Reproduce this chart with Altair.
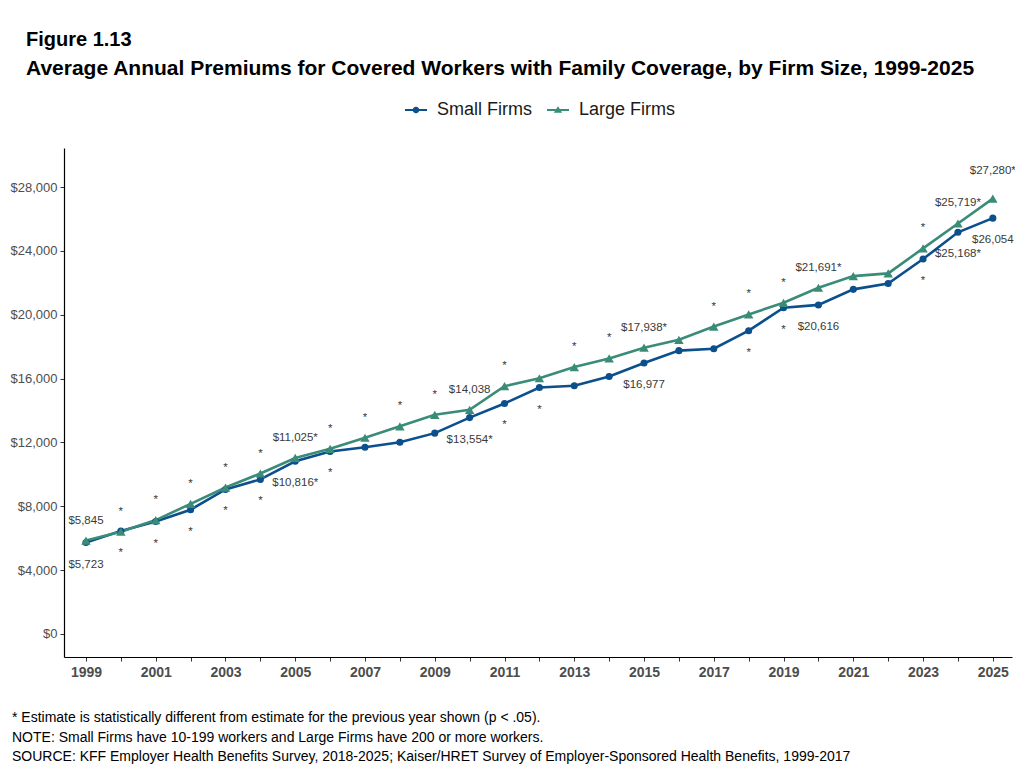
import altair as alt
import pandas as pd

FONT = "Liberation Sans"

years = list(range(1999, 2026))
small_firms = [5723, 6450, 7040, 7780, 9050, 9680, 10816, 11430, 11700, 12010,
               12580, 13554, 14440, 15440, 15550, 16130, 16977, 17750, 17870,
               19000, 20440, 20616, 21590, 21960, 23490, 25168, 26054]
large_firms = [5845, 6400, 7130, 8150, 9170, 10050, 11025, 11600, 12290, 13010,
               13730, 14038, 15520, 16020, 16720, 17260, 17938, 18430, 19260,
               20020, 20750, 21691, 22420, 22590, 24160, 25719, 27280]
small_sig = [0, 1, 1, 1, 1, 1, 1, 1, 0, 0, 0, 1, 1, 1, 0, 0, 0, 0, 0, 1, 1, 0, 0, 0, 1, 1, 0]
large_sig = [0, 1, 1, 1, 1, 1, 1, 1, 1, 1, 1, 0, 1, 0, 1, 1, 1, 0, 1, 1, 1, 1, 0, 0, 1, 1, 1]
labeled_years = [1999, 2005, 2010, 2015, 2020, 2024, 2025]

series_names = ["Small Firms", "Large Firms"]
series_colors = ["#0B4F8C", "#3A8C78"]
point_shapes = ["circle", "triangle-up"]
point_sizes = [50, 90]
# legend keys: a short line with the series symbol on it (filled paths)
legend_shapes = [
    "M-1,-0.1H1V0.1H-1Z M0.3,0A0.3,0.3,0,1,1,-0.3,0A0.3,0.3,0,1,1,0.3,0Z",
    "M-1,-0.1H1V0.1H-1Z M0,-0.34L0.38,0.26L-0.38,0.26Z",
]

title_line1 = "Figure 1.13"
title_line2 = "Average Annual Premiums for Covered Workers with Family Coverage, by Firm Size, 1999-2025"
foot_lines = [
    "* Estimate is statistically different from estimate for the previous year shown (p < .05).",
    "NOTE: Small Firms have 10-199 workers and Large Firms have 200 or more workers.",
    "SOURCE: KFF Employer Health Benefits Survey, 2018-2025; Kaiser/HRET Survey of Employer-Sponsored Health Benefits, 1999-2017",
]
y_ticks = list(range(0, 28001, 4000))


def make_label(year, value, sig):
    star = "*" if sig else ""
    if year in labeled_years:
        return "${:,}".format(value) + star
    return star


rows = []
for name, vals, sigs in [("Small Firms", small_firms, small_sig),
                         ("Large Firms", large_firms, large_sig)]:
    for yr, v, s in zip(years, vals, sigs):
        rows.append({"year": yr, "series": name, "value": v,
                     "label": make_label(yr, v, s)})
df = pd.DataFrame(rows)

x_enc = alt.X("year:Q",
              scale=alt.Scale(domain=[1998.37, 2025.55], nice=False, zero=False),
              axis=alt.Axis(values=years, title=None,
                            labelExpr="datum.value % 2 == 1 ? format(datum.value, 'd') : ''",
                            labelOverlap=False, labelFlush=False,
                            tickSize=4, labelPadding=4, labelFontSize=14,
                            labelFontWeight="bold", labelColor="#4d4d4d",
                            labelFont=FONT, domainColor="#000000", domainWidth=1.2,
                            tickColor="#333333", grid=False))
y_enc = alt.Y("value:Q",
              scale=alt.Scale(domain=[-1450, 30450], nice=False, zero=False),
              axis=alt.Axis(values=y_ticks, format="$,d", title=None,
                            tickSize=4, labelPadding=3, labelFontSize=13,
                            labelColor="#4d4d4d", labelFont=FONT,
                            domainColor="#000000", domainWidth=1.2,
                            tickColor="#333333", grid=False))
color_enc = alt.Color("series:N",
                      scale=alt.Scale(domain=series_names, range=series_colors),
                      legend=None)

base = alt.Chart(df)

lines = base.mark_line(strokeWidth=2.6).encode(x=x_enc, y=y_enc, color=color_enc)

points = base.mark_point(filled=True, opacity=1).encode(
    x=x_enc, y=y_enc, color=color_enc,
    shape=alt.Shape("series:N", scale=alt.Scale(domain=series_names, range=point_shapes), legend=None),
    size=alt.Size("series:N", scale=alt.Scale(domain=series_names, range=point_sizes), legend=None),
)

text_style = dict(font=FONT, fontSize=11.5, color="#3a3a3a", baseline="middle", align="center")

labels_large = base.transform_filter(
    "datum.series == 'Large Firms' && datum.year != 2025"
).mark_text(dy=-20, **text_style).encode(x=x_enc, y=y_enc, text="label:N")

labels_large_end = base.transform_filter(
    "datum.series == 'Large Firms' && datum.year == 2025"
).mark_text(dy=-28, **text_style).encode(x=x_enc, y=y_enc, text="label:N")

labels_small = base.transform_filter(
    "datum.series == 'Small Firms'"
).mark_text(dy=22, **text_style).encode(x=x_enc, y=y_enc, text="label:N")


def legend_layer(i, legend_x):
    name = series_names[i]
    return base.transform_filter("datum.year < 0").mark_point(filled=True).encode(
        x=x_enc, y=y_enc,
        fill=alt.Fill("series:N",
                      scale=alt.Scale(domain=[name], range=[series_colors[i]]),
                      legend=alt.Legend(title=None, orient="none", direction="horizontal",
                                        legendX=legend_x, legendY=-49, symbolSize=484,
                                        symbolType=legend_shapes[i],
                                        symbolStrokeWidth=0, symbolOpacity=1,
                                        labelFontSize=18, labelFont=FONT,
                                        labelColor="#1a1a1a", labelOffset=10)),
    )


legend_small = legend_layer(0, 341)
legend_large = legend_layer(1, 483)


def text_layer(txt, xpos, ypos, size, weight="normal", color="#000000"):
    return alt.Chart(pd.DataFrame({"t": [txt]})).mark_text(
        font=FONT, fontSize=size, fontWeight=weight, color=color,
        align="left", baseline="alphabetic"
    ).encode(x=alt.value(xpos), y=alt.value(ypos), text="t:N")


title1 = text_layer(title_line1, -38, -102.5, 20, "bold")
title2 = text_layer(title_line2, -38, -73, 21, "bold")
foot1 = text_layer(foot_lines[0], -52, 574.3, 14)
foot2 = text_layer(foot_lines[1], -52, 593.7, 14)
foot3 = text_layer(foot_lines[2], -52, 612.7, 14)

chart = alt.layer(
    lines, points, labels_large, labels_large_end, labels_small,
    legend_small, legend_large,
    title1, title2, foot1, foot2, foot3
).resolve_scale(
    shape="independent", size="independent", fill="independent"
).properties(
    width=948, height=509, autosize="none",
    padding={"left": 56, "top": 140, "right": 3, "bottom": 108},
).configure_view(strokeWidth=0)

chart.save("out.html", embed_options={"renderer": "svg", "actions": False})
